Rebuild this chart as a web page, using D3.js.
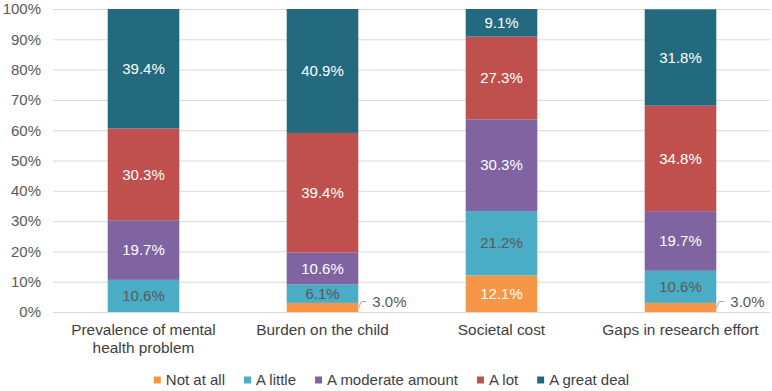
<!DOCTYPE html>
<html lang="en">
<head>
  <meta charset="UTF-8">
  <title>Stacked bars</title>
  <script src="https://cdn.jsdelivr.net/npm/d3@7"></script>
  <style>
    body { margin: 0; background: #fff; }
    text { font-family: "Liberation Sans", Arial, sans-serif; }
  </style>
</head>
<body>
  <svg width="772" height="391"></svg>
<script>
  // data
  const categories = ["Prevalence of mental health problem", "Burden on the child", "Societal cost", "Gaps in research effort"];
  const seriesNames = ["Not at all", "A little", "A moderate amount", "A lot", "A great deal"];
  const notAtAll = [0, 3.0, 12.1, 3.0];
  const aLittle = [10.6, 6.1, 21.2, 10.6];
  const moderate = [19.7, 10.6, 30.3, 19.7];
  const aLot = [30.3, 39.4, 27.3, 34.8];
  const greatDeal = [39.4, 40.9, 9.1, 31.8];
  const yTicks = [0, 10, 20, 30, 40, 50, 60, 70, 80, 90, 100];

  const colors = ["#F79646", "#4BACC6", "#8064A2", "#C0504D", "#246A7E"];
  const labelColors = ["#fff", "#595959", "#fff", "#fff", "#fff"];

  const svg = d3.select("svg");
  const margin = { left: 54, top: 9, right: 2, bottom: 79 };
  const width = +svg.attr("width"), height = +svg.attr("height");

  const x = d3.scaleBand()
    .domain(categories)
    .range([margin.left, width - margin.right])
    .paddingInner(0.6)
    .paddingOuter(0.3);

  const y = d3.scaleLinear()
    .domain([0, 100])
    .range([height - margin.bottom, margin.top]);

  // gridlines
  svg.append("g")
    .selectAll("line")
    .data(yTicks)
    .join("line")
    .attr("x1", margin.left - 1)
    .attr("x2", width - margin.right)
    .attr("y1", d => y(d) + 0.5)
    .attr("y2", d => y(d) + 0.5)
    .attr("stroke", "#d9d9d9")
    .attr("stroke-width", 1);

  // y axis labels
  const yAxis = svg.append("g")
    .attr("transform", `translate(${margin.left - 13},0)`)
    .call(d3.axisLeft(y).tickValues(yTicks).tickFormat(d => d + "%").tickSize(0));
  yAxis.select(".domain").remove();
  yAxis.selectAll("text")
    .attr("font-size", "15px")
    .attr("fill", "#595959")
    .attr("x", 0)
    .style("font-family", "'Liberation Sans', Arial, sans-serif");

  // stack
  const table = categories.map((c, i) => ({
    cat: c,
    "Not at all": notAtAll[i],
    "A little": aLittle[i],
    "A moderate amount": moderate[i],
    "A lot": aLot[i],
    "A great deal": greatDeal[i]
  }));
  const stacked = d3.stack().keys(seriesNames)(table);

  const layers = svg.append("g")
    .selectAll("g")
    .data(stacked)
    .join("g")
    .attr("fill", (d, i) => colors[i]);

  layers.selectAll("rect")
    .data(d => d)
    .join("rect")
    .attr("x", d => x(d.data.cat))
    .attr("width", x.bandwidth())
    .attr("y", d => y(d[1]))
    .attr("height", d => y(d[0]) - y(d[1]));

  // data labels
  stacked.forEach((layer, si) => {
    layer.forEach(d => {
      const v = d[1] - d[0];
      if (v <= 0) return;
      const cx = x(d.data.cat) + x.bandwidth() / 2;
      const cy = (y(d[0]) + y(d[1])) / 2;
      if (v < 5) {
        // small slice: label outside with leader line
        const bx = x(d.data.cat) + x.bandwidth();
        const ly = cy - 6;
        svg.append("path")
          .attr("d", `M${bx},${cy + 1}L${bx + 3},${ly}L${bx + 8},${ly}`)
          .attr("fill", "none")
          .attr("stroke", "#a6a6a6")
          .attr("stroke-width", 1);
        svg.append("text")
          .attr("x", bx + 14)
          .attr("y", ly)
          .attr("dy", "0.35em")
          .attr("font-size", "15px")
          .attr("fill", "#595959")
          .text(v.toFixed(1) + "%");
      } else {
        svg.append("text")
          .attr("x", cx)
          .attr("y", cy)
          .attr("dy", "0.35em")
          .attr("text-anchor", "middle")
          .attr("font-size", "15px")
          .attr("fill", labelColors[si])
          .text(v.toFixed(1) + "%");
      }
    });
  });

  // category labels, wrapped
  const catG = svg.append("g");
  categories.forEach(c => {
    const t = catG.append("text")
      .attr("x", x(c) + x.bandwidth() / 2)
      .attr("y", height - margin.bottom + 23)
      .attr("text-anchor", "middle")
      .attr("font-size", "15.4px")
      .attr("fill", "#404040");
    const words = c.split(" ");
    let line = [];
    let tspan = t.append("tspan").attr("x", x(c) + x.bandwidth() / 2).attr("dy", 0);
    words.forEach(w => {
      line.push(w);
      tspan.text(line.join(" "));
      if (tspan.node().getComputedTextLength() > 170 && line.length > 1) {
        line.pop();
        tspan.text(line.join(" "));
        line = [w];
        tspan = t.append("tspan").attr("x", x(c) + x.bandwidth() / 2).attr("dy", "18px").text(w);
      }
    });
  });

  // legend
  const legend = svg.append("g");
  let lx = 0;
  seriesNames.forEach((s, i) => {
    const g = legend.append("g").attr("transform", `translate(${lx},0)`);
    g.append("rect")
      .attr("x", 0).attr("y", -3.5)
      .attr("width", 7).attr("height", 7)
      .attr("fill", colors[i]);
    const t = g.append("text")
      .attr("x", 12)
      .attr("dy", "0.35em")
      .attr("font-size", "15px")
      .attr("fill", "#404040")
      .text(s);
    lx += 12 + t.node().getComputedTextLength() + 19;
  });
  const legendW = lx - 19;
  legend.attr("transform", `translate(${391.5 - legendW / 2},380)`);
</script>
</body>
</html>
